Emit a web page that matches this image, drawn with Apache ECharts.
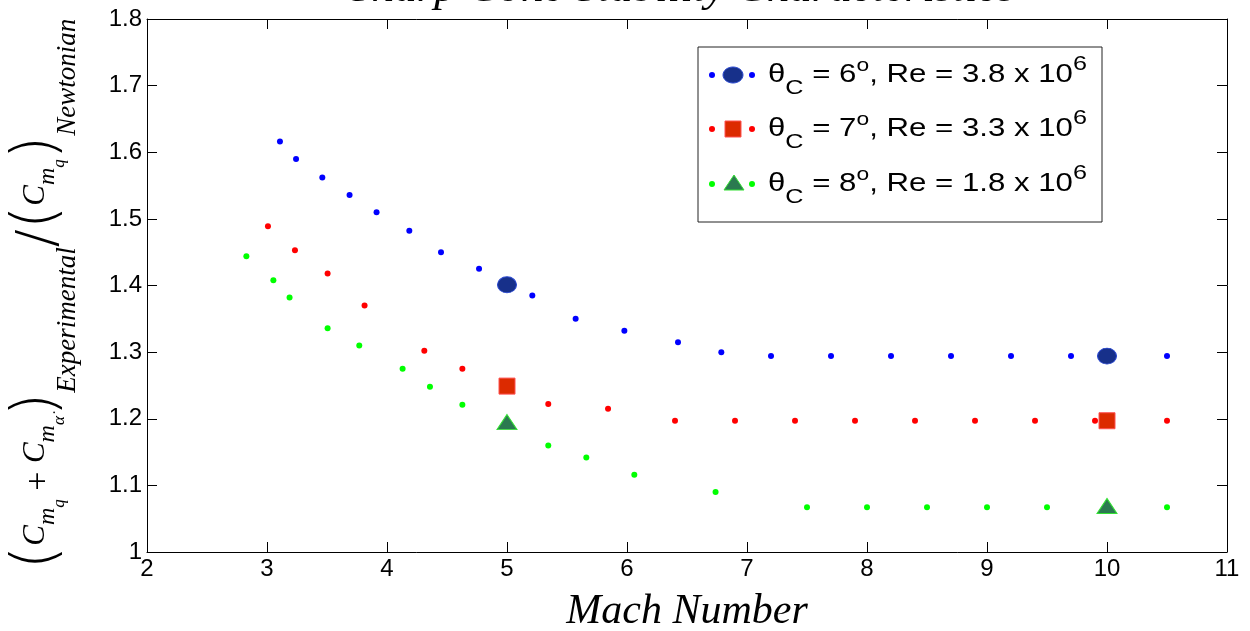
<!DOCTYPE html>
<html><head><meta charset="utf-8">
<script src="https://cdn.jsdelivr.net/npm/echarts@6/dist/echarts.min.js"></script>
<style>html,body{margin:0;padding:0;background:#fff}#c{width:1250px;height:631px}</style>
</head><body><div id="c"></div>
<script>
// ---- data ----
const xTicks = [2, 3, 4, 5, 6, 7, 8, 9, 10, 11];
const yTicks = [1, 1.1, 1.2, 1.3, 1.4, 1.5, 1.6, 1.7, 1.8];

const blueX = [3.108, 3.242, 3.461, 3.688, 3.913, 4.186, 4.45, 4.767, 5.211, 5.572, 5.978, 6.425, 6.786, 7.2, 7.7, 8.2, 8.7, 9.2, 9.7, 10.5];
const blueY = [1.616, 1.590, 1.562, 1.536, 1.510, 1.482, 1.450, 1.425, 1.385, 1.350, 1.332, 1.315, 1.300, 1.294, 1.294, 1.294, 1.294, 1.294, 1.294, 1.294];

const redX = [3.008, 3.233, 3.505, 3.813, 4.311, 4.628, 5.344, 5.842, 6.4, 6.9, 7.4, 7.9, 8.4, 8.9, 9.4, 9.9, 10.5];
const redY = [1.489, 1.453, 1.418, 1.370, 1.302, 1.275, 1.222, 1.215, 1.197, 1.197, 1.197, 1.197, 1.197, 1.197, 1.197, 1.197, 1.197];

const greenX = [2.828, 3.053, 3.188, 3.505, 3.769, 4.13, 4.358, 4.628, 5.344, 5.661, 6.061, 6.738, 7.5, 8, 8.5, 9, 9.5, 10.5];
const greenY = [1.444, 1.408, 1.382, 1.336, 1.310, 1.275, 1.248, 1.221, 1.160, 1.142, 1.116, 1.090, 1.067, 1.067, 1.067, 1.067, 1.067, 1.067];

const keyX = [5, 10];
const blueKeyY = [1.401, 1.294];
const redKeyY = [1.249, 1.197];
const greenKeyY = [1.195, 1.069];

const coneAngles = ['6', '7', '8'];
const reynolds = ['3.8', '3.3', '1.8'];
const reExponent = ['6', '6', '6'];

const titleText = 'Sharp Cone Stability Characteristics';
const xName = 'Mach Number';

// ---- helpers ----
const zip = (xs, ys) => xs.map((x, i) => [x, ys[i]]);

const dotColors = ['#0000ff', '#ff0000', '#00ff00'];
const keyFill = ['#17308a', '#dc2a00', '#2b7a50'];
const keyStroke = ['#2a48d0', '#ff5050', '#33e033'];

function legendRow(i, cy) {
  const els = [];
  els.push({ type: 'circle', shape: { cx: 712, cy: cy, r: 3 }, style: { fill: dotColors[i] } });
  els.push({ type: 'circle', shape: { cx: 752, cy: cy, r: 3 }, style: { fill: dotColors[i] } });
  if (i === 0) els.push({ type: 'ellipse', shape: { cx: 733, cy: cy, rx: 10, ry: 8 }, style: { fill: keyFill[0], stroke: keyStroke[0], lineWidth: 1 } });
  if (i === 1) els.push({ type: 'rect', shape: { x: 725, y: cy - 8, width: 16, height: 16 }, style: { fill: keyFill[1], stroke: keyStroke[1], lineWidth: 1 } });
  if (i === 2) els.push({ type: 'polygon', shape: { points: [[734, cy - 9], [724, cy + 6], [744, cy + 6]] }, style: { fill: keyFill[2], stroke: keyStroke[2], lineWidth: 1 } });
  els.push({
    type: 'text', x: 768, y: cy, scaleX: 1.2,
    style: {
      text: '{m|θ}{sub|C}{m| = ' + coneAngles[i] + '}{sup|o}{m|, Re = ' + reynolds[i] + ' x 10}{sup2|' + reExponent[i] + '}',
      align: 'left', verticalAlign: 'middle',
      rich: {
        m: { fontFamily: 'Liberation Sans', fontSize: 26, fill: '#000', verticalAlign: 'middle' },
        sub: { fontFamily: 'Liberation Sans', fontSize: 21, fill: '#000', padding: [26, 0, 0, 0], verticalAlign: 'middle' },
        sup: { fontFamily: 'Liberation Sans', fontSize: 19, fill: '#000', padding: [0, 0, 18, 0], verticalAlign: 'middle' },
        sup2: { fontFamily: 'Liberation Sans', fontSize: 21, fill: '#000', padding: [0, 0, 22, 0], verticalAlign: 'middle' }
      }
    }
  });
  return els;
}

const serif = 'Liberation Serif';
const yLabelRich = {
  P: { fontFamily: 'DejaVu Sans', fontWeight: 200, fontSize: 60, padding: [4, 0, 0, 0], verticalAlign: 'middle', fill: '#000' },
  C: { fontFamily: serif, fontStyle: 'italic', fontSize: 31, verticalAlign: 'middle', fill: '#000' },
  s: { fontFamily: serif, fontStyle: 'italic', fontSize: 24, padding: [24, 0, 0, 0], verticalAlign: 'middle', fill: '#000' },
  ss: { fontFamily: serif, fontStyle: 'italic', fontSize: 17, padding: [48, 0, 0, 0], verticalAlign: 'middle', fill: '#000' },
  op: { fontFamily: serif, fontSize: 34, padding: [6, 0, 0, 0], verticalAlign: 'middle', fill: '#000' },
  E: { fontFamily: serif, fontStyle: 'italic', fontSize: 27, padding: [64, 0, 0, 0], verticalAlign: 'middle', fill: '#000' },
  sl: { fontFamily: 'DejaVu Sans', fontWeight: 200, fontSize: 54, padding: [8, 0, 0, 0], verticalAlign: 'middle', fill: '#000' }
};
const yLabelText = '{P|(}{C|C}{s|m}{ss|q}{op| + }{C|C}{s|m}{ss|α\u0307}{P|)}{E|Experimental}{sl|/}{P|(}{C|C}{s|m}{ss|q}{P|)}{E|Newtonian}';

const chart = echarts.init(document.getElementById('c'), null, { renderer: 'canvas' });

const axisCommon = {
  type: 'value',
  axisLine: { show: true, onZero: false, lineStyle: { color: '#000', width: 1 } },
  axisTick: { show: true, inside: true, length: 10, lineStyle: { color: '#000', width: 1 } },
  splitLine: { show: false }
};
const labelStyle = { fontFamily: 'Liberation Sans', fontSize: 24, color: '#000' };

const option = {
  animation: false,
  backgroundColor: '#fff',
  grid: { left: 147, right: 23, top: 19, bottom: 79, containLabel: false, outerBoundsMode: 'none' },
  xAxis: [
    Object.assign({}, axisCommon, {
      min: xTicks[0], max: xTicks[xTicks.length - 1], interval: xTicks[1] - xTicks[0],
      position: 'bottom',
      axisLabel: Object.assign({ margin: 5 }, labelStyle),
      name: xName, nameLocation: 'middle', nameGap: 39,
      nameTextStyle: { fontFamily: serif, fontStyle: 'italic', fontSize: 42, color: '#000' }
    }),
    Object.assign({}, axisCommon, {
      min: xTicks[0], max: xTicks[xTicks.length - 1], interval: xTicks[1] - xTicks[0],
      position: 'top', axisLabel: { show: false }
    })
  ],
  yAxis: [
    Object.assign({}, axisCommon, {
      min: yTicks[0], max: yTicks[yTicks.length - 1], interval: 0.1,
      position: 'left',
      axisLabel: Object.assign({ margin: 5 }, labelStyle)
    }),
    Object.assign({}, axisCommon, {
      min: yTicks[0], max: yTicks[yTicks.length - 1], interval: 0.1,
      position: 'right', axisLabel: { show: false }
    })
  ],
  series: [
    { type: 'scatter', name: 'blue', data: zip(blueX, blueY), symbol: 'circle', symbolSize: 6, itemStyle: { color: dotColors[0], opacity: 1 }, z: 2 },
    { type: 'scatter', name: 'red', data: zip(redX, redY), symbol: 'circle', symbolSize: 6, itemStyle: { color: dotColors[1], opacity: 1 }, z: 2 },
    { type: 'scatter', name: 'green', data: zip(greenX, greenY), symbol: 'circle', symbolSize: 6, itemStyle: { color: dotColors[2], opacity: 1 }, z: 2 },
    { type: 'scatter', name: 'blueKey', data: zip(keyX, blueKeyY), symbol: 'circle', symbolSize: [19, 16], itemStyle: { color: keyFill[0], borderColor: keyStroke[0], borderWidth: 1, opacity: 1 }, z: 3 },
    { type: 'scatter', name: 'redKey', data: zip(keyX, redKeyY), symbol: 'rect', symbolSize: 16, itemStyle: { color: keyFill[1], borderColor: keyStroke[1], borderWidth: 1, opacity: 1 }, z: 3 },
    { type: 'scatter', name: 'greenKey', data: zip(keyX, greenKeyY), symbol: 'triangle', symbolSize: [20, 15], itemStyle: { color: keyFill[2], borderColor: keyStroke[2], borderWidth: 1, opacity: 1 }, z: 3 }
  ],
  graphic: [
    {
      type: 'text', x: 682, y: -10, scaleX: 1.05,
      style: { text: titleText, fontFamily: serif, fontStyle: 'italic', fontSize: 43, fill: '#000', align: 'center', verticalAlign: 'middle' }
    },
    {
      type: 'text', x: 36, y: 294, rotation: Math.PI / 2,
      style: { text: yLabelText, rich: yLabelRich, align: 'center', verticalAlign: 'middle', fill: '#000' }
    },
    {
      type: 'group', z: 100,
      children: [{ type: 'rect', shape: { x: 698, y: 47, width: 404, height: 175 }, style: { fill: '#fff', stroke: '#222', lineWidth: 1 } }]
        .concat(legendRow(0, 75), legendRow(1, 129), legendRow(2, 184))
    }
  ]
};
chart.setOption(option);
</script>
</body></html>
